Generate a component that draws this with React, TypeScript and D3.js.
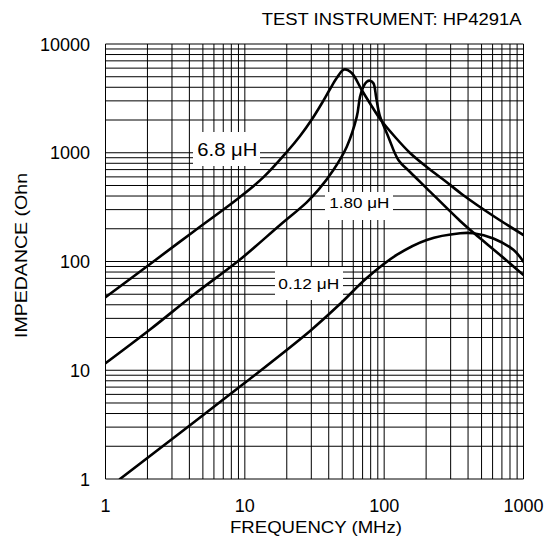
import React from 'react';
import * as d3 from 'd3';

const titleText = 'TEST INSTRUMENT: HP4291A';
const xTitle = 'FREQUENCY (MHz)';
const yTitle = 'IMPEDANCE (Ohn';
const xTickLabels = [1, 10, 100, 1000];
const yTickLabels = [1, 10, 100, 1000, 10000];

const freq68 = [1, 1.98, 4.27, 9.24, 13.5, 20, 24.9, 30.4, 35.8, 40.9, 45.9, 51.6, 58.5, 69, 79.2, 93.5, 119.8, 153.4, 202, 274, 368, 608, 1000];
const imp68 = [47, 90, 188, 392, 590, 1016, 1426, 2043, 2867, 3855, 4920, 5830, 5410, 3776, 2838, 2043, 1396, 995, 740, 550, 409, 262, 175];

const freq180 = [1, 2.09, 4.27, 9.24, 17.9, 27.8, 33.7, 43.2, 53.9, 63.6, 67.1, 70.9, 75, 79.2, 83.7, 87.5, 90.9, 93.5, 107, 126.5, 153.4, 202, 351, 449, 679, 1000];
const imp180 = [11.6, 23.7, 49.2, 104.3, 216.6, 350, 455, 694, 1137, 2147, 3276, 4048, 4500, 4598, 4352, 3276, 2472, 2147, 1405, 858, 665, 471, 236, 179, 115, 75];

const freq012 = [1.27, 9.75, 29.4, 48.2, 75, 123, 202, 351, 437, 608, 846, 1000];
const imp012 = [1, 7.47, 23, 40.7, 70.5, 115, 158, 182, 182, 163, 128, 99.6];

const seriesLabels = ['6.8 \u03BCH', '1.80 \u03BCH', '0.12 \u03BCH'];

const FONT = '"Liberation Sans", Arial, Helvetica, sans-serif';

export default function App() {
  const W = 548, H = 542;
  const x = d3.scaleLog().domain([1, 1000]).range([105.5, 523.5]);
  const y = d3.scaleLog().domain([1, 10000]).range([479, 44]);
  const xGrid = x.ticks();
  const yGrid = y.ticks();
  const line = d3.line<[number, number]>()
    .x(d => x(d[0]))
    .y(d => y(d[1]))
    .curve(d3.curveCatmullRom.alpha(0.5));
  const series = [
    { f: freq68, z: imp68 },
    { f: freq180, z: imp180 },
    { f: freq012, z: imp012 },
  ];
  const labelBoxes = [
    { x0: 193, y0: 132, w: 67, h: 34, tx: 197.3, ty: 155.7, fs: 19, tl: 60 },
    { x0: 325, y0: 192, w: 68, h: 28, tx: 329.3, ty: 208.3, fs: 15.5, tl: 60 },
    { x0: 275, y0: 267, w: 68, h: 33, tx: 278.3, ty: 289.3, fs: 14.5, tl: 61 },
  ];
  const [x0, x1] = x.range();
  const [y1, y0] = y.range();
  return (
    <svg width={W} height={H} style={{ position: 'absolute', left: 0, top: 0, background: '#fff' }}>
      <rect x={0} y={0} width={W} height={H} fill="#fff" />
      <defs>
        <clipPath id="plotclip">
          <rect x={x0} y={y0} width={x1 - x0} height={y1 - y0} />
        </clipPath>
      </defs>
      {xGrid.map((v, i) => (
        <line key={'vx' + i} x1={x(v)} x2={x(v)} y1={y0} y2={y1} stroke="#000" strokeWidth={1} />
      ))}
      {yGrid.map((v, i) => (
        <line key={'hy' + i} x1={x0} x2={x1} y1={y(v)} y2={y(v)} stroke="#000" strokeWidth={1} />
      ))}
      {labelBoxes.map((b, i) => (
        <g key={'lb' + i}>
          <rect x={b.x0} y={b.y0} width={b.w} height={b.h} fill="#fff" />
          <text x={b.tx} y={b.ty} fontSize={b.fs} fontFamily={FONT} textLength={b.tl} lengthAdjust="spacingAndGlyphs" fill="#000">
            {seriesLabels[i]}
          </text>
        </g>
      ))}
      <g clipPath="url(#plotclip)">
        {series.map((s, i) => (
          <path key={'s' + i}
            d={line(s.f.map((f, j) => [f, s.z[j]] as [number, number])) || ''}
            fill="none" stroke="#000" strokeWidth={2.6} strokeLinejoin="round" strokeLinecap="round" />
        ))}
      </g>
      {yTickLabels.map((v, i) => (
        <text key={'yl' + i} x={90} y={y(v) + 6.5} fontSize={18} fontFamily={FONT} textAnchor="end" fill="#000">{String(v)}</text>
      ))}
      {xTickLabels.map((v, i) => (
        <text key={'xl' + i} x={x(v)} y={511.7} fontSize={18} fontFamily={FONT} textAnchor="middle" fill="#000">{String(v)}</text>
      ))}
      <text x={261.7} y={25} fontSize={16} fontFamily={FONT} textLength={260} lengthAdjust="spacingAndGlyphs" fill="#000">{titleText}</text>
      <text x={230} y={533.3} fontSize={16} fontFamily={FONT} textLength={172} lengthAdjust="spacingAndGlyphs" fill="#000">{xTitle}</text>
      <text transform="translate(26.7,338) rotate(-90)" fontSize={16} fontFamily={FONT} textLength={165} lengthAdjust="spacingAndGlyphs" fill="#000">{yTitle}</text>
    </svg>
  );
}
